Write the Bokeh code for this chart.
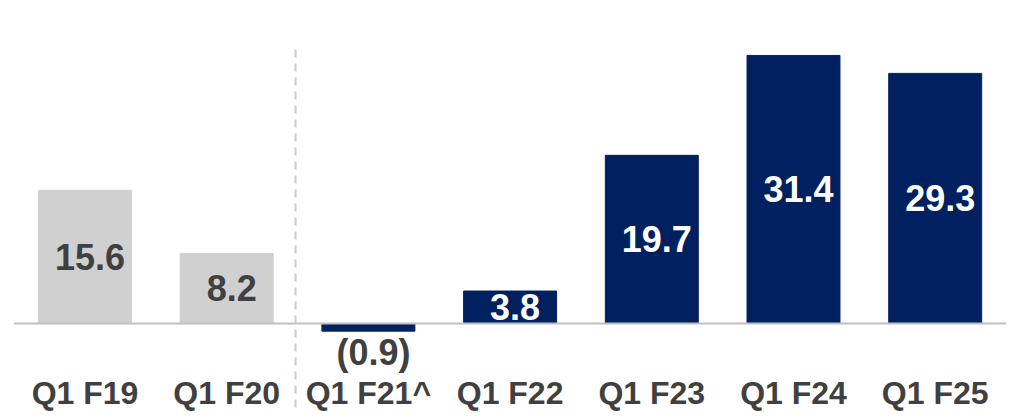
from bokeh.plotting import figure
from bokeh.models import ColumnDataSource, Range1d
from bokeh.core.properties import value
from bokeh.embed import file_html
from bokeh.resources import INLINE

categories = ["Q1 F19", "Q1 F20", "Q1 F21^", "Q1 F22", "Q1 F23", "Q1 F24", "Q1 F25"]
values = [15.6, 8.2, -0.9, 3.8, 19.7, 31.4, 29.3]
labels = ["15.6", "8.2", "(0.9)", "3.8", "19.7", "31.4", "29.3"]

GREY = "#d0d0d0"
NAVY = "#002060"
DARK = "#404040"

xs = list(range(len(categories)))
colors = [GREY, GREY] + [NAVY] * 5
label_colors = [DARK, DARK, DARK] + ["#ffffff"] * 4
label_y = [v / 2 if v > 0 else v - 2.5 for v in values]

W, H = 1012, 412
p = figure(width=W, height=H, output_backend="svg", toolbar_location=None,
           x_range=Range1d(-0.5963, 6.5455), y_range=Range1d(-10.43, 37.84),
           min_border=0, outline_line_color=None)
p.axis.visible = False
p.grid.visible = False
p.background_fill_color = "white"
p.border_fill_color = "white"

src = ColumnDataSource(dict(x=xs, top=values, color=colors, lab=labels,
                            ly=label_y, lc=label_colors, cat=categories))

p.vbar(x="x", top="top", bottom=0, width=0.656, color="color", source=src)

# baseline
p.segment(x0=[-0.5], y0=[0], x1=[6.5], y1=[0], line_color="#bfbfbf", line_width=2)
# dashed separator
p.segment(x0=[1.486], y0=[32.1], x1=[1.486], y1=[-12], line_color="#c8cdc8",
          line_width=2, line_dash="8 6")

p.text(x="x", y="ly", text="lab", text_color="lc", source=src,
       text_font=value("Liberation Sans"), text_font_style="bold",
       text_font_size="36px", text_align="center", text_baseline="middle",
       x_offset=5)

p.text(x="x", y=-8.2, text="cat", source=src, text_color=DARK,
       text_font=value("Liberation Sans"), text_font_style="bold",
       text_font_size="32px", text_align="center", text_baseline="middle")

open("out.html", "w").write(file_html(p, INLINE))
